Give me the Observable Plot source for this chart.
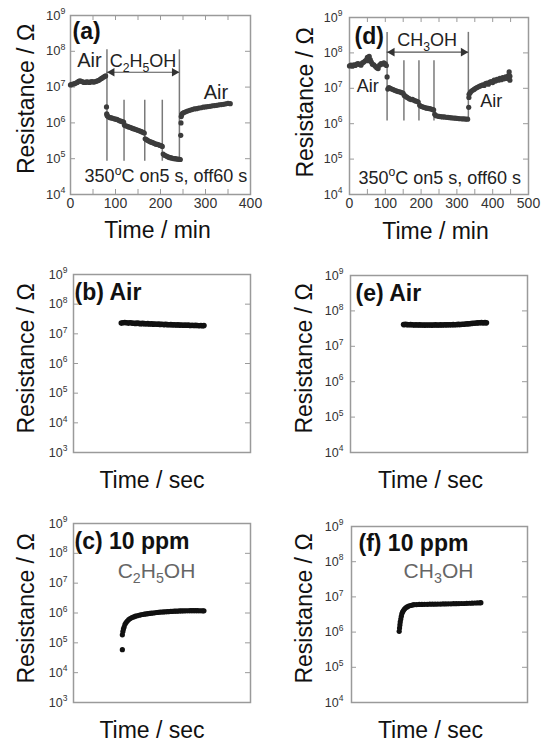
<!DOCTYPE html>
<html><head><meta charset="utf-8">
<script src="https://cdn.jsdelivr.net/npm/d3@7"></script>
<script src="https://cdn.jsdelivr.net/npm/@observablehq/plot@0.6"></script>
<style>
body{margin:0;background:#fff;}
#fig{position:relative;width:544px;height:744px;background:#fff;font-family:"Liberation Sans",Arial,sans-serif;}
#fig > div{position:absolute;}
</style></head><body><div id="fig"></div>
<script>
// ---------- DATA ----------
// (a) C2H5OH pulsed-heating run: [time (min), resistance (ohm)]
const seriesA = [
 [0,1.15e7],[3,1.2e7],[6,1.22e7],[9,1.25e7],[12,1.3e7],[15,1.35e7],[18,1.45e7],[21,1.5e7],[24,1.45e7],[27,1.4e7],
 [30,1.35e7],[33,1.35e7],[36,1.4e7],[39,1.38e7],[42,1.35e7],[45,1.4e7],[48,1.42e7],[51,1.38e7],[54,1.4e7],[57,1.45e7],
 [60,1.5e7],[63,1.55e7],[66,1.65e7],[69,1.75e7],[72,1.85e7],[75,1.95e7],[78,2.05e7],
 [80,2.8e6],[80.5,1.8e6],[81,1.65e6],[82,1.55e6],[85,1.45e6],[88,1.4e6],[91,1.38e6],[94,1.35e6],[97,1.3e6],[100,1.28e6],
 [103,1.25e6],[106,1.2e6],[109,1.15e6],[112,1.12e6],[115,1.08e6],[118,1.05e6],
 [120,8.6e5],[123,8.3e5],[126,8.0e5],[129,7.7e5],[132,7.5e5],[135,7.3e5],[138,7.0e5],[141,6.8e5],[144,6.6e5],[147,6.4e5],
 [150,6.2e5],[153,6.0e5],[156,5.8e5],[159,5.6e5],[162,5.4e5],[164,5.2e5],
 [166,3.6e5],[169,3.4e5],[172,3.2e5],[175,3.05e5],[178,2.95e5],[181,2.85e5],[184,2.75e5],[187,2.65e5],[190,2.55e5],[193,2.5e5],
 [196,2.45e5],[199,2.35e5],[202,2.3e5],[204,2.2e5],
 [206,1.35e5],[209,1.25e5],[212,1.2e5],[215,1.15e5],[218,1.1e5],[221,1.07e5],[224,1.05e5],[227,1.03e5],[230,1.0e5],[233,1.0e5],
 [236,9.8e4],[239,9.7e4],[242,9.6e4],[244,9.5e4],
 [245,4.5e5],[245.5,1.0e6],[246,1.5e6],[247,1.7e6],[249,1.85e6],[252,1.95e6],[256,2.05e6],[260,2.15e6],[265,2.25e6],[270,2.35e6],
 [275,2.45e6],[280,2.5e6],[285,2.6e6],[290,2.65e6],[295,2.75e6],[300,2.8e6],[305,2.85e6],[310,2.9e6],[315,3.0e6],[320,3.05e6],
 [325,3.1e6],[330,3.2e6],[335,3.25e6],[340,3.3e6],[345,3.4e6],[350,3.5e6],[355,3.45e6]
];
const pulsesA = [[81,8.5e4,1.1e8],[119,8.5e4,4.3e6],[165,8.5e4,4.3e6],[204,8.5e4,4.3e6],[242,8.5e4,1.1e8]];
const exposureA = [81,242,2.6e7];
const notesA = [[42,3.6e7,"Air"],[323,4.8e6,"Air"]];
const gasA = [[161,3.6e7,"C{_2}H{_5}OH"]];
const condA = [[212,2.2e4,"350{^o}C on5 s, off60 s"]];

// (d) CH3OH pulsed-heating run
const seriesD = [
 [0,4.3e7],[4,4.5e7],[8,4.2e7],[12,4.6e7],[16,4.4e7],[20,4.8e7],[24,5.0e7],[28,4.7e7],[32,4.5e7],[36,5.2e7],
 [40,5.5e7],[44,6.0e7],[48,6.5e7],[50,7.5e7],[52,6.0e7],[55,8.0e7],[58,6.5e7],[61,5.5e7],[64,4.8e7],[68,4.6e7],
 [72,4.2e7],[76,3.8e7],[80,3.6e7],[84,4.5e7],[88,5.0e7],[92,4.8e7],[96,5.2e7],[100,4.9e7],[103,4.4e7],
 [105,2.1e7],[107,9.5e6],[110,1.05e7],[114,1.0e7],[118,9.5e6],[122,9.2e6],[126,8.8e6],[130,8.5e6],[134,8.2e6],[138,8.0e6],
 [142,7.8e6],[146,7.5e6],[150,7.2e6],
 [153,6.3e6],[156,6.0e6],[160,5.6e6],[164,5.3e6],[168,5.0e6],[172,4.8e6],[176,4.9e6],[180,4.6e6],[184,4.4e6],[188,4.3e6],[192,4.1e6],
 [196,3.3e6],[200,3.1e6],[204,3.0e6],[208,2.9e6],[212,2.8e6],[216,2.75e6],[220,2.7e6],[224,2.65e6],[228,2.6e6],[232,2.5e6],[235,2.45e6],
 [238,1.85e6],[241,1.7e6],[245,1.65e6],[250,1.6e6],[255,1.58e6],[260,1.55e6],[265,1.55e6],[270,1.52e6],[275,1.5e6],[280,1.48e6],
 [285,1.47e6],[290,1.45e6],[295,1.43e6],[300,1.42e6],[305,1.4e6],[310,1.38e6],[315,1.37e6],[320,1.36e6],[325,1.35e6],[330,1.34e6],
 [333,2.9e6],[333.5,5.5e6],[334,6.8e6],[337,7.5e6],[340,8.2e6],[344,8.8e6],[348,9.3e6],[352,1.0e7],[356,1.05e7],[360,1.1e7],
 [364,1.15e7],[368,1.2e7],[372,1.25e7],[376,1.2e7],[380,1.35e7],[384,1.4e7],[388,1.3e7],[392,1.5e7],[396,1.55e7],[400,1.45e7],
 [404,1.7e7],[408,1.6e7],[412,1.8e7],[416,1.7e7],[420,1.9e7],[424,1.75e7],[428,2.0e7],[432,1.85e7],[436,2.1e7],[440,1.9e7],
 [444,2.3e7],[446,2.9e7],[448,1.7e7],[448,2.2e7]
];
const pulsesD = [[105,1.2e6,3.8e8],[152,1.2e6,6e7],[194,1.2e6,6e7],[236,1.2e6,6e7],[332,1.2e6,3.8e8]];
const exposureD = [105,332,1.05e8];
const notesD = [[51,8.1e6,"Air"],[396,2.9e6,"Air"]];
const gasD = [[217,1.55e8,"CH{_3}OH"]];
const condD = [[252,2.0e4,"350{^o}C on5 s, off60 s"]];

// (b) single pulse in air (C2H5OH sensor): [relative time, resistance]
const seriesB = [
 [27,2.3e7],[28,2.35e7],[29,2.4e7],[30,2.35e7],[31,2.3e7],[32,2.35e7],[33,2.3e7],[34,2.28e7],[35,2.25e7],[36,2.3e7],
 [37,2.25e7],[38,2.2e7],[39,2.25e7],[40,2.2e7],[41,2.18e7],[42,2.2e7],[43,2.15e7],[44,2.18e7],[45,2.12e7],[46,2.15e7],
 [47,2.1e7],[48,2.12e7],[49,2.08e7],[50,2.1e7],[51,2.05e7],[52,2.08e7],[53,2.05e7],[54,2.02e7],[55,2.05e7],[56,2.0e7],
 [57,2.02e7],[58,1.98e7],[59,2.0e7],[60,1.97e7],[61,1.99e7],[62,1.95e7],[63,1.97e7],[64,1.94e7],[65,1.96e7],[66,1.92e7],
 [67,1.95e7],[68,1.9e7],[69,1.93e7],[70,1.9e7],[71,1.88e7],[72,1.92e7],[73,1.87e7],[73.7,1.9e7]
];
// (e) single pulse in air (CH3OH sensor)
const seriesE = [
 [30,4.1e7],[31,4.15e7],[32,4.1e7],[33,4.05e7],[34,4.1e7],[35,4.05e7],[36,4.0e7],[37,4.05e7],[38,4.0e7],[39,4.02e7],
 [40,3.98e7],[41,4.0e7],[42,3.97e7],[43,4.0e7],[44,3.98e7],[45,4.0e7],[46,3.97e7],[47,4.0e7],[48,4.02e7],[49,3.98e7],
 [50,4.0e7],[51,4.03e7],[52,4.0e7],[53,4.05e7],[54,4.02e7],[55,4.05e7],[56,4.08e7],[57,4.05e7],[58,4.1e7],[59,4.08e7],
 [60,4.12e7],[61,4.15e7],[62,4.12e7],[63,4.2e7],[64,4.18e7],[65,4.25e7],[66,4.3e7],[67,4.35e7],[68,4.4e7],[69,4.45e7],
 [70,4.5e7],[71,4.55e7],[72,4.6e7],[73,4.62e7],[74,4.65e7],[75,4.6e7],[76,4.65e7],[76.8,4.6e7]
];
// (c) single pulse in 10 ppm C2H5OH
const seriesC = [
 [27.6,5.9e4],[27.6,1.85e5],[27.9,2.4e5],[28.2,2.9e5],[28.6,3.4e5],[29.1,4.2e5],[29.7,4.8e5],[30.4,5.4e5],[31.2,6.0e5],[32,6.5e5],
 [33,7.0e5],[34,7.4e5],[35,7.8e5],[36,8.1e5],[37,8.4e5],[38,8.7e5],[39,8.9e5],[40,9.1e5],[41,9.3e5],[42,9.5e5],
 [43,9.7e5],[44,9.9e5],[45,1.0e6],[46,1.02e6],[47,1.04e6],[48,1.05e6],[49,1.07e6],[50,1.08e6],[51,1.09e6],[52,1.1e6],
 [53,1.11e6],[54,1.12e6],[55,1.13e6],[56,1.14e6],[57,1.15e6],[58,1.15e6],[59,1.16e6],[60,1.17e6],[61,1.17e6],[62,1.18e6],
 [63,1.18e6],[64,1.19e6],[65,1.19e6],[66,1.2e6],[67,1.2e6],[68,1.2e6],[69,1.2e6],[70,1.2e6],[71,1.19e6],[72,1.19e6],
 [73,1.18e6],[73.7,1.18e6]
];
// (f) single pulse in 10 ppm CH3OH
const seriesF = [
 [27.1,1.05e6],[27.3,1.3e6],[27.5,1.6e6],[27.7,1.95e6],[28.0,2.35e6],[28.3,2.8e6],[28.6,3.3e6],[29.0,3.7e6],[29.5,4.1e6],[30.1,4.5e6],
 [30.8,4.9e6],[31.6,5.2e6],[32.5,5.5e6],[33.5,5.7e6],[34.5,5.85e6],[35.5,6.0e6],[37,6.05e6],[38.5,6.1e6],[40,6.1e6],[41.5,6.15e6],
 [43,6.15e6],[44.5,6.2e6],[46,6.2e6],[47.5,6.2e6],[49,6.25e6],[50.5,6.25e6],[52,6.3e6],[53.5,6.3e6],[55,6.35e6],[56.5,6.35e6],
 [58,6.4e6],[59.5,6.4e6],[61,6.45e6],[62.5,6.5e6],[64,6.5e6],[65.5,6.55e6],[67,6.6e6],[68.5,6.65e6],[70,6.7e6],[71.5,6.75e6],
 [73,6.8e6],[73.5,6.85e6]
];

// tick values / labels
const decades4to9 = [1e4,1e5,1e6,1e7,1e8,1e9];
const decades3to9 = [1e3,1e4,1e5,1e6,1e7,1e8,1e9];
const timeTicksA = [0,100,200,300,400];
const timeMinorA = [50,100,150,200,250,300,350];
const timeTicksD = [0,100,200,300,400,500];
const timeMinorD = [50,100,150,200,250,300,350,400,450];

const panelLabels = {a:"(a)", b:"(b) Air", c:"(c) 10 ppm", d:"(d)", e:"(e) Air", f:"(f) 10 ppm"};
const yTitle = "Resistance / Ω";
const xTitleMin = "Time / min";
const xTitleSec = "Time / sec";

// ---------- DRAW ----------
const FONT = "Liberation Sans, Arial, sans-serif";
const FRAME = "#9a9a9a";
const fig = document.getElementById("fig");

function supFmt(d) { return `10{^${Math.round(Math.log10(d))}}`; }

function panel(cfg) {
  const pw = cfg.width - cfg.mL - cfg.mR, ph = cfg.height - cfg.mT - cfg.mB;
  const marks = [
    Plot.frame({stroke: FRAME, strokeWidth: 1.5}),
    Plot.tickY(cfg.yTicks, {y: d => d, insetRight: pw - 5, stroke: FRAME}),
    Plot.tickY(cfg.yTicks, {y: d => d, insetLeft: pw - 5, stroke: FRAME}),
    Plot.axisY({ticks: cfg.yTicks, tickFormat: supFmt, tickSize: 0, tickPadding: cfg.yPad, fontSize: cfg.yFont, color: "#333", label: null}),
    Plot.text([yTitle], {frameAnchor: "left", textAnchor: "middle", rotate: -90, dx: cfg.yT[0], dy: cfg.yT[1], fontSize: 23, fill: "#111"}),
    Plot.text([cfg.xTitle], {frameAnchor: "bottom", textAnchor: "middle", lineAnchor: "bottom", dx: cfg.xT[0], dy: cfg.xT[1], fontSize: 23, fill: "#111"}),
    Plot.text([cfg.label], {frameAnchor: "top-left", textAnchor: "start", lineAnchor: "bottom", dx: cfg.lab[0], dy: cfg.lab[1], fontSize: 23, fontWeight: "bold", fill: "#111"})
  ];
  if (cfg.xTicks) {
    marks.push(
      Plot.tickX(cfg.xMinor, {x: d => d, insetTop: ph - 5, stroke: FRAME}),
      Plot.tickX(cfg.xMinor, {x: d => d, insetBottom: ph - 5, stroke: FRAME}),
      Plot.axisX({ticks: cfg.xTicks, tickSize: 0, tickPadding: 4, fontSize: 14, color: "#333", label: null})
    );
  }
  if (cfg.extra) marks.push(...cfg.extra);
  marks.push(Plot.dot(cfg.series, {x: d => d[0], y: d => d[1], r: cfg.r, fill: cfg.dotFill, stroke: "none"}));
  if (cfg.gasLabel) marks.push(Plot.text([cfg.gasLabel], {frameAnchor: "top-left", textAnchor: "middle", lineAnchor: "bottom", dx: cfg.gas[0], dy: cfg.gas[1], fontSize: 21, fill: "#666"}));

  const svg = Plot.plot({
    width: cfg.width, height: cfg.height,
    marginLeft: cfg.mL, marginRight: cfg.mR, marginTop: cfg.mT, marginBottom: cfg.mB,
    style: {fontFamily: FONT, background: "#fff", overflow: "visible"},
    x: {domain: cfg.xDomain, axis: cfg.xTicks ? undefined : null},
    y: {type: "log", domain: cfg.yDomain},
    marks
  });
  const wrap = document.createElement("div");
  wrap.style.left = cfg.left + "px";
  wrap.style.top = cfg.top + "px";
  wrap.appendChild(svg);
  fig.appendChild(wrap);
}

function runAnnotations(pulses, exposure, notes, gas, cond, noteSize) {
  const seg = [{x1: exposure[0], x2: exposure[1], y: exposure[2]}];
  return [
    Plot.ruleX(pulses, {x: d => d[0], y1: d => d[1], y2: d => d[2], stroke: "#7a7a7a", strokeWidth: 1.5}),
    Plot.ruleY(seg, {x1: "x1", x2: "x2", y: "y", stroke: "#555", strokeWidth: 1.2}),
    Plot.dot(seg, {x: "x2", y: "y", symbol: "triangle", rotate: 90, r: 3.2, fill: "#333", dx: -5}),
    Plot.dot(seg, {x: "x1", y: "y", symbol: "triangle", rotate: -90, r: 3.2, fill: "#333", dx: 5}),
    Plot.text(notes, {x: d => d[0], y: d => d[1], text: d => d[2], lineAnchor: "bottom", fontSize: noteSize, fill: "#222"}),
    Plot.text(gas, {x: d => d[0], y: d => d[1], text: d => d[2], lineAnchor: "bottom", fontSize: 18, fill: "#222"}),
    Plot.text(cond, {x: d => d[0], y: d => d[1], text: d => d[2], lineAnchor: "bottom", fontSize: 18, fill: "#222"})
  ];
}

panel({left: 0, top: 0, width: 272, height: 250, mL: 70, mR: 22, mT: 15, mB: 56,
  xDomain: [0, 400], yDomain: [1e4, 1e9], yTicks: decades4to9, yPad: 5, yFont: 13,
  xTicks: timeTicksA, xMinor: timeMinorA, series: seriesA, r: 2.6, dotFill: "#3c3c3c",
  xTitle: xTitleMin, xT: [-3, 43], yT: [-44, -6], label: panelLabels.a, lab: [2, 23],
  extra: runAnnotations(pulsesA, exposureA, notesA, gasA, condA, 20)});

panel({left: 272, top: 0, width: 272, height: 250, mL: 77, mR: 16, mT: 17, mB: 56,
  xDomain: [0, 500], yDomain: [1e4, 1e9], yTicks: decades4to9, yPad: 7, yFont: 12.5,
  xTicks: timeTicksD, xMinor: timeMinorD, series: seriesD, r: 2.6, dotFill: "#3c3c3c",
  xTitle: xTitleMin, xT: [-3.5, 44], yT: [-44, -3.5], label: panelLabels.d, lab: [5, 26],
  extra: runAnnotations(pulsesD, exposureD, notesD, gasD, condD, 18)});

panel({left: 0, top: 250, width: 272, height: 250, mL: 73, mR: 22, mT: 24, mB: 48,
  xDomain: [0, 100], yDomain: [1e3, 1e9], yTicks: decades3to9, yPad: 6, yFont: 12.5,
  series: seriesB, r: 2.8, dotFill: "#111",
  xTitle: xTitleSec, xT: [-10, 35], yT: [-47, -5], label: panelLabels.b, lab: [1, 25]});

panel({left: 272, top: 250, width: 272, height: 250, mL: 78, mR: 17, mT: 25, mB: 48,
  xDomain: [0, 100], yDomain: [1e4, 1e9], yTicks: decades4to9, yPad: 7, yFont: 12.5,
  series: seriesE, r: 2.8, dotFill: "#111",
  xTitle: xTitleSec, xT: [-8.5, 35], yT: [-46, -5.5], label: panelLabels.e, lab: [5, 25]});

panel({left: 0, top: 500, width: 272, height: 244, mL: 73, mR: 22, mT: 23, mB: 42,
  xDomain: [0, 100], yDomain: [1e3, 1e9], yTicks: decades3to9, yPad: 6, yFont: 12.5,
  series: seriesC, r: 2.6, dotFill: "#111",
  xTitle: xTitleSec, xT: [-10, 35], yT: [-47, -4.5], label: panelLabels.c, lab: [1, 25],
  gasLabel: "C{_2}H{_5}OH", gas: [83, 54]});

panel({left: 272, top: 500, width: 272, height: 244, mL: 79, mR: 17, mT: 26, mB: 42,
  xDomain: [0, 100], yDomain: [1e4, 1e9], yTicks: decades4to9, yPad: 8, yFont: 12.5,
  series: seriesF, r: 2.6, dotFill: "#111",
  xTitle: xTitleSec, xT: [-9, 35], yT: [-47, -6], label: panelLabels.f, lab: [7, 24],
  gasLabel: "CH{_3}OH", gas: [87, 51]});

// turn {^x} / {_x} markup into real super/subscript tspans
function richText(root) {
  root.querySelectorAll("text").forEach(el => {
    const s = el.textContent;
    if (!s.includes("{")) return;
    const fs = parseFloat(getComputedStyle(el).fontSize) || 12;
    const parts = s.split(/(\{[_^][^}]*\})/).filter(p => p !== "");
    while (el.firstChild) el.removeChild(el.firstChild);
    let shift = 0;
    for (const p of parts) {
      const m = p.match(/^\{([_^])([^}]*)\}$/);
      const t = document.createElementNS("http://www.w3.org/2000/svg", "tspan");
      if (m) {
        const target = m[1] === "^" ? -0.42 * fs : 0.25 * fs;
        t.setAttribute("dy", target - shift); shift = target;
        t.setAttribute("font-size", 0.68 * fs);
        t.textContent = m[2];
      } else {
        if (shift) t.setAttribute("dy", -shift);
        shift = 0;
        t.textContent = p;
      }
      el.appendChild(t);
    }
  });
}
richText(fig);
</script></body></html>
